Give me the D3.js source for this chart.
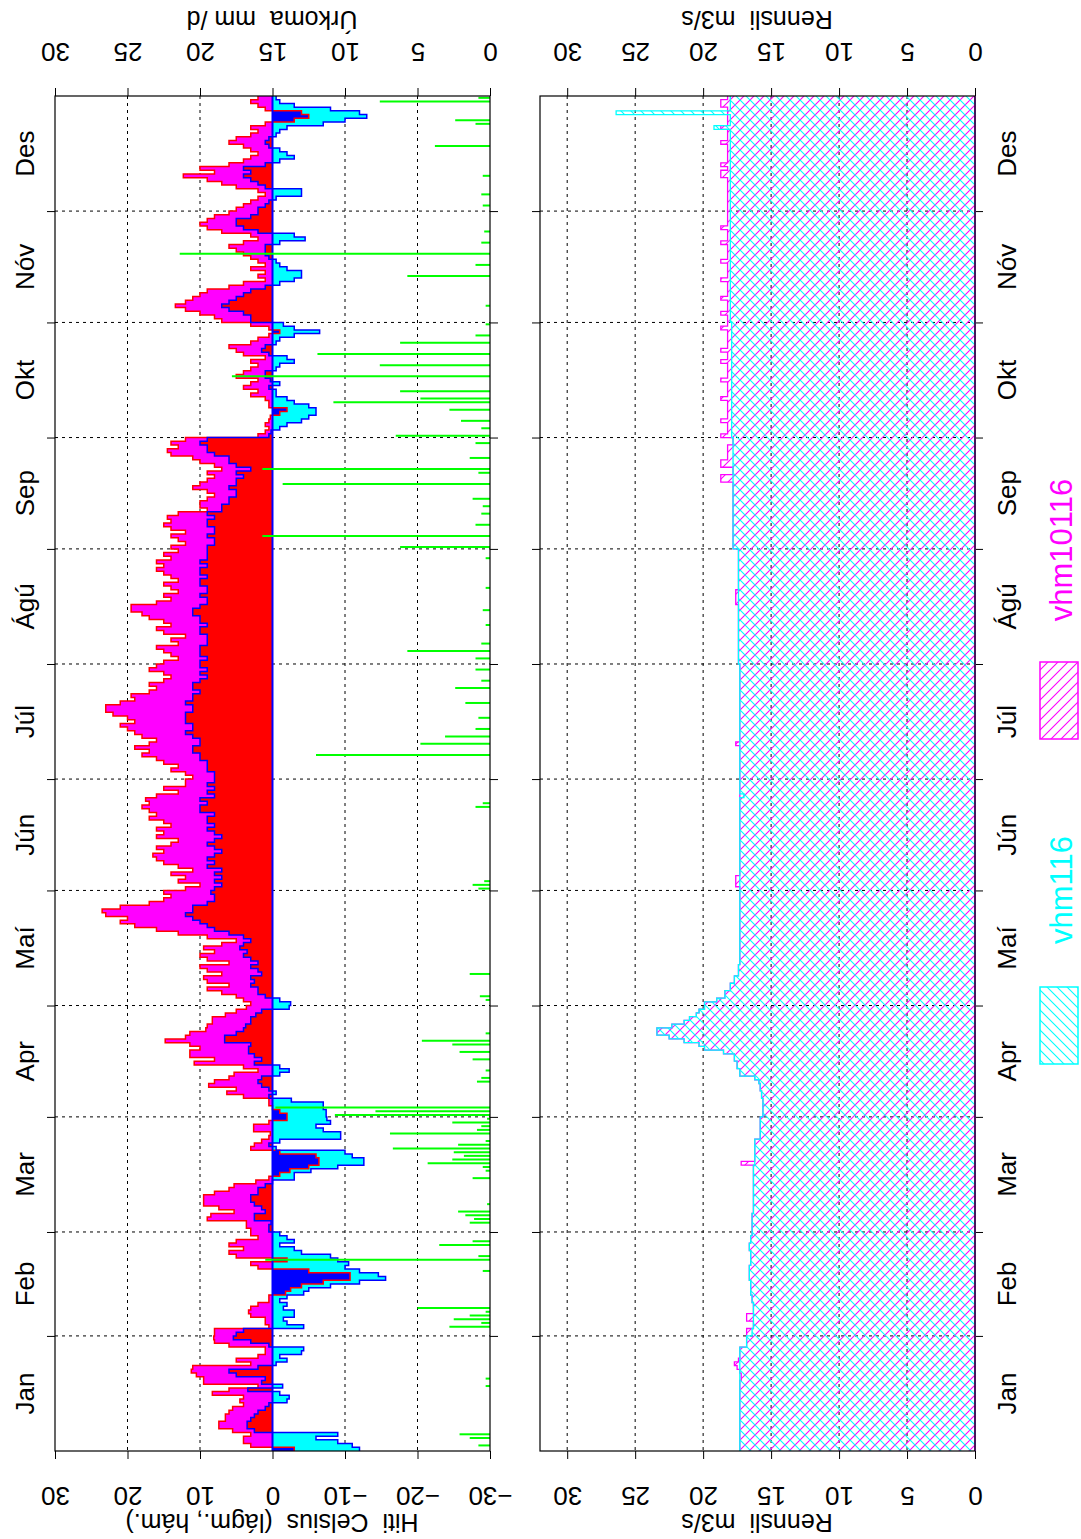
<!DOCTYPE html>
<html>
<head>
<meta charset="utf-8">
<script src="https://cdn.jsdelivr.net/npm/d3@7"></script>
<style>
  body { margin: 0; background: #fff; }
  text { font-family: "Liberation Sans", Arial, sans-serif; white-space: pre; }
</style>
</head>
<body>
<script>
// ---- data ----
const months = ["Jan", "Feb", "Mar", "Apr", "Maí", "Jún", "Júl", "Ágú", "Sep", "Okt", "Nóv", "Des"];
const monthDays = [31, 28, 31, 30, 31, 30, 31, 31, 30, 31, 30, 31];
const tempTicks = [30, 20, 10, 0, -10, -20, -30];
const rainTicks = [0, 5, 10, 15, 20, 25, 30];
const flowTicks = [0, 5, 10, 15, 20, 25, 30];
const seriesNames = ["vhm116", "vhm10116"];

// daily max temperature (°C)
const tmax = [
  -3,3,4,4,3,5.5,7.4,7.4,6.5,6.5,6,5.5,4,4.5,4,8.3,6,2,9.5,9.5,10.5,11.2,11,3,5,2,1,1,6,8,8.1,
  8,8,0.5,1,1,3,3.3,3,2,0.5,0.5,-1.8,-2.5,-4,-7,-10.7,-10.7,-5,2,3,-2,5,6,4,6,5,2,3,
  3,3.6,3.6,9,8.5,5.3,7.4,9.5,9.5,9.5,8,6,5.3,2.3,0.5,-1,-2.4,-5,-6.4,-6.4,-6,-1,3,2.5,1.5,0.5,0.3,2.6,2.6,0.5,-2,
  -2,-1,0,0.5,0.5,4,6.3,5,8.8,8,6,5.3,2,4,10.8,8,11.4,11.4,10,11.4,14.8,12,11.4,9.2,9,8.3,8.3,6.5,5,3.6,
  3,4,5,7,9,6,9,9.5,7,9,10,6,9,10,8,9.5,7,5,9,13,16,19,21,20,23,23.5,21,17,15,14,15,
  12,10,13,12,14,11,13,15,16,16.5,15,16,14,13,16,15,16,14,15,17,16,17,18,17,17.5,16,13,15,12,12,
  11,12,14,13,15,16,18,17,19,17,16,18,19,20,21,19,20,22,23,23,21,19,19.5,17,16,17,15,14,15,17,16,
  15,13,14,15,16,13,14,12,15,16,14,15,17,18,19.5,19.5,16,14,15,13,14,15,13,14,15,16,15,16,14,15,13,
  14,12,13,14,12,14,15,14,14.5,13,9,10,10,9,8,9,11,10,9,8,9,7,8,10,11,14,14.5,13,14,12,
  2,1,0.5,1,0.5,0.3,-1,-2,0.5,0.5,1,3,2,4,3,2,5,4,3,2,3,1,4,5,6,3,2,0.5,-1,0.5,3,
  7,8,10,12,13.4,12,11,10,9,6,4,1,2,1,3,1,2,3,4,5,6,4,2,3,7,9,10,9,8,6,
  5,4,3,2,1,2,5,7,9,12.3,8,10,6,4,3,2,3,4,6,5,3,2,3,1,-3,-5,-4,1,2,3,2
];

// daily min temperature (°C)
const tmin = [
  -12,-11,-9,-6,-9,2.5,3.5,3.5,3,2.5,2,1,0.5,-2,-2.3,-1,3.4,-1.4,1.5,1,5,6,2,-0.5,-2,-1,-4,-4.3,0.5,3,5.4,
  5,4,-4.3,-2,-1.5,-3,-3,-1.5,-2,-1,-2,-4.3,-5,-8,-12,-15.6,-14.6,-12,-10,-10.5,-9,-8,-4,-3,-1,-3,-2,-1,
  0.5,0.5,0.2,2.5,2.5,1,1.5,2.5,3,3,2,2,1,0,-3,-3,-5.3,-9,-12.6,-12.6,-11,-10,-0.5,0.5,-1,-9.4,-9.4,-7,-6,-8,-7.5,
  -7.4,-7.4,-7,-7,-2.6,0.5,-0.5,0.5,1.5,2,1.5,-1,-2.3,-1,2.5,1.5,2.5,3.3,3.3,3,6.6,6.6,5,4,3.7,3,3,2.3,1.5,-2.3,
  -2.5,-1,1,2,2,3,2.5,3,1.5,2,3,2,3,4,3.5,4.5,4,3,4,6,8,9,10,11,12,11,11,9,8,8,8.5,
  8,7,8,7,8,7,9,8,9,8,7,8,9,8,7,8,9,8,9,9,8,10,10,9,10,8,9,8,9,8,
  8,8,9,9,9,10,10,11,11,10,10,11,12,11,11,12,12,12,11,11,12,11,11,10,11,11,10,9,10,9,10,
  10,9,10,10,10,9,9,9,10,10,9,10,10,11,11,10,9,9,10,9,9,10,10,9,10,10,9,10,9,9,9,
  9,8,8,9,8,8,9,9,8,9,7,7,6,6,5,5,6,5,5,4,5,3,5,6,6,8,9,9,10,9,
  0.5,0.2,-1,-2,-4,-5,-6,-6,-5,-3,-2,-0.5,-0.5,0.5,-1,0.3,1,1,-0.5,-1,-3,-2,0.5,1.5,1,-0.5,-1,-3,-6.5,-3,-1.5,
  3,3,4,6,7,6,5,4,3,1,-1,-3,-4,-4,-2,-1,-0.5,0.5,1,1,1,-1,-4.5,-3,2,4,5,5,3,2,
  2,1,0.5,-0.5,-4,-4,1,2,3,4,3,4,1,-1,-3,-2,-1,0.5,1,0.5,-0.5,-1,-2,-7,-10,-13,-12,-8,-3,-1,-0.5
];

// daily precipitation (mm/d)
const rain = [
  0,0.8,0,1.4,2.1,0,0,0,0,0,0,0,0,0,0,0,0,0.3,0,0.3,0,0,0,0,0,0,0,0,0,0,0,
  0,0,2.8,0.6,2.5,1.4,0.3,5.0,0,0,0,0,0,0,0,0,0,0.5,0,0,15.5,0.8,0,0,3.5,1.2,0,0,
  0,0,1.4,1.1,1.7,2.2,0,0.2,0,0,0,0,0,0,1.2,0,0.3,0.5,4.3,2.6,1.8,2.5,6.7,2.2,0.3,0,6.9,0.9,0.6,2.6,0.2,
  10.7,7.9,14.8,0,0,0,0,0,0,0.9,0.6,0,0.3,0,0,1.2,0,2.1,0,2.6,4.7,0,0.3,0,0,0,0,0,0,0,
  0,0.3,0.7,0,0,0,0,0,1.4,0,0,0,0,0,0,0,0,0,0,0,0,0,0,0,0,0,0,0,0,0,0,
  0.8,1.2,0.4,0,0,0,0,0,0,0,0,0,0,0,0,0,0,0,0,0,0,0,1.0,0.5,0,0,0,0,0,0,
  0,0,0,0,0,0,12,0,0,4.8,0,3.1,0,1,0,0,0.8,0,0,0,1.7,0,0,0,2.4,0,0.6,0,0,1.0,0,
  0,1,0,5.7,0,0.6,0,0,0,0,0.3,0,0,0,0.5,0,0,0,0,0,0.3,0,0,0,0,0,0,0,0.3,0,0,
  6.2,0,0,15.7,0,0,1,0,0,0.6,0,0.5,0,1.2,0,0,0,14.3,0,0,0.8,15.7,0,0,1.4,0,0,0,1.0,0,
  6.5,0,0.6,0,2.0,0,0,2.8,0,10.8,4.8,0,6.2,0,0,0,17.8,0,0,7.6,0,0,11.9,0,0,6.2,0,1,0,0,0.3,
  0,0,0,0,0.3,0,0,0,0,0,0,0,5.7,0,0,1.0,0,0,21.4,0,0,0.6,0,0,0.4,0,0,0,0,0,
  0,0.5,0,0,0.6,0,0,0,0,0.5,0,0,0,0,0,0,0,3.8,0,0,0,0,0,1.0,2.4,0,0,0,0,7.6,0.8
];

// daily discharge, vhm116 (m3/s)
const flow116 = [
  17.3,17.3,17.3,17.3,17.3,17.3,17.3,17.3,17.3,17.3,17.3,17.3,17.3,17.3,17.3,17.3,17.3,17.3,17.3,17.3,17.3,17.3,17.3,17.3,17.3,17.3,17.3,17.3,16.8,16.8,16.8,
  16.4,16.4,16.3,16.3,16.3,16.3,16.3,16.3,16.3,16.4,16.4,16.5,16.5,16.5,16.5,16.6,16.6,16.6,16.6,16.5,16.5,16.5,16.5,16.6,16.6,16.5,16.5,16.4,
  16.4,16.4,16.4,16.4,16.4,16.3,16.3,16.3,16.3,16.3,16.3,16.3,16.3,16.3,16.3,16.3,16.3,16.3,16.2,16.2,16.2,16.2,16.2,16.2,16.2,15.8,15.8,15.8,15.8,15.8,15.8,
  15.6,15.6,15.6,15.6,15.6,15.7,15.7,15.8,15.8,15.9,16.2,17.3,17.3,17.5,17.5,17.7,17.7,18.5,19.9,20.3,21.4,22.5,23.4,23.4,22.3,21.4,21.0,20.5,20.3,19.9,
  19.9,19.0,18.4,18.4,18.0,18.0,17.7,17.7,17.4,17.4,17.4,17.3,17.3,17.3,17.3,17.3,17.3,17.3,17.3,17.3,17.3,17.3,17.3,17.3,17.3,17.3,17.3,17.3,17.3,17.3,17.3,
  17.3,17.3,17.3,17.3,17.3,17.3,17.3,17.3,17.3,17.3,17.3,17.3,17.3,17.3,17.3,17.3,17.3,17.3,17.3,17.3,17.3,17.3,17.3,17.3,17.3,17.0,17.3,17.3,17.3,17.3,
  17.3,17.3,17.3,17.3,17.3,17.3,17.3,17.3,17.3,17.3,17.3,17.3,17.3,17.3,17.3,17.3,17.3,17.3,17.3,17.3,17.3,17.3,17.3,17.3,17.3,17.3,17.3,17.3,17.3,17.3,17.3,
  17.4,17.4,17.4,17.4,17.4,17.4,17.4,17.4,17.4,17.4,17.4,17.4,17.4,17.4,17.4,17.4,17.4,17.4,17.4,17.4,17.4,17.4,17.4,17.4,17.4,17.4,17.4,17.4,17.4,17.4,17.4,
  17.8,17.8,17.8,17.8,17.8,17.8,17.8,17.8,17.8,17.8,17.8,17.8,17.8,17.8,17.8,17.8,17.8,17.8,17.8,17.8,17.8,17.8,17.8,17.8,17.8,17.8,17.8,17.8,17.8,17.8,
  17.9,17.9,17.9,17.9,17.9,17.9,17.9,17.9,17.9,17.9,17.9,17.9,17.9,17.9,17.9,17.9,17.9,17.9,17.9,17.9,17.9,17.9,17.9,17.9,17.9,17.9,17.9,17.9,17.9,17.9,17.9,
  18.0,18.0,18.0,18.0,18.0,18.0,18.0,18.0,18.0,18.0,18.0,18.0,18.0,18.0,18.0,18.0,18.0,18.0,18.0,18.0,18.0,18.0,18.0,18.0,18.0,18.0,18.0,18.0,18.0,18.0,
  18.0,18.0,18.0,18.0,18.0,18.0,18.0,18.0,18.0,18.0,18.0,18.0,18.0,18.0,18.0,18.0,18.0,18.0,18.0,18.0,18.0,18.0,19.2,18.0,18.0,18.0,26.4,18.0,18.0,18.0,18.0
];

// daily discharge, vhm10116 (m3/s)
const flow10116 = [
  17.3,17.3,17.3,17.3,17.3,17.3,17.3,17.3,17.3,17.3,17.3,17.3,17.3,17.3,17.3,17.3,17.3,17.3,17.3,17.2,17.2,17.3,17.5,17.7,17.4,17.3,17.3,17.3,16.8,16.8,16.8,
  16.8,16.8,16.3,16.3,16.8,16.8,16.3,16.3,16.3,16.4,16.4,16.5,16.5,16.5,16.5,16.6,16.6,16.6,16.6,16.5,16.5,16.5,16.5,16.6,16.6,16.5,16.5,16.4,
  16.4,16.4,16.4,16.4,16.4,16.3,16.3,16.3,16.3,16.3,16.3,16.3,16.3,16.3,16.3,16.3,16.3,16.3,17.2,16.2,16.2,16.2,16.2,16.2,16.2,15.8,15.8,15.8,15.8,15.8,15.8,
  15.6,15.6,15.6,15.6,15.6,15.7,15.7,15.8,15.8,15.9,16.2,17.3,17.3,17.5,17.5,17.7,17.7,18.5,19.9,20.3,21.4,22.5,23.4,23.4,22.3,21.4,21.0,20.5,20.3,19.9,
  19.9,19.0,18.4,18.4,18.0,18.0,17.7,17.7,17.4,17.4,17.4,17.3,17.3,17.3,17.3,17.3,17.3,17.3,17.3,17.3,17.3,17.3,17.3,17.3,17.3,17.3,17.3,17.3,17.3,17.3,17.3,
  17.3,17.6,17.6,17.6,17.3,17.3,17.3,17.3,17.3,17.3,17.3,17.3,17.3,17.3,17.3,17.3,17.3,17.3,17.3,17.3,17.3,17.3,17.3,17.3,17.3,17.3,17.3,17.3,17.3,17.3,
  17.3,17.3,17.3,17.3,17.3,17.3,17.3,17.3,17.3,17.6,17.3,17.3,17.3,17.3,17.3,17.3,17.3,17.3,17.3,17.3,17.3,17.3,17.3,17.3,17.3,17.3,17.3,17.3,17.3,17.3,17.3,
  17.4,17.4,17.4,17.4,17.4,17.4,17.4,17.4,17.4,17.4,17.4,17.4,17.4,17.4,17.4,17.4,17.6,17.6,17.6,17.6,17.4,17.4,17.4,17.4,17.4,17.4,17.4,17.4,17.4,17.4,17.4,
  17.8,17.8,17.8,17.8,17.8,17.8,17.8,17.8,17.8,17.8,17.8,17.8,17.8,17.8,17.8,17.8,17.8,17.8,18.7,18.7,17.8,17.8,18.7,18.7,18.2,18.2,18.2,18.2,17.8,17.8,
  18.7,18.2,18.2,18.2,18.7,18.2,18.2,18.2,18.2,18.2,18.7,18.2,18.2,18.2,18.2,18.7,18.2,18.2,18.2,18.2,18.7,18.2,18.2,18.7,18.2,18.2,18.2,18.2,18.2,18.7,18.2,
  18.2,18.2,18.7,18.2,18.2,18.2,18.7,18.2,18.2,18.2,18.2,18.7,18.2,18.2,18.2,18.2,18.7,18.2,18.2,18.2,18.2,18.7,18.2,18.2,18.2,18.7,18.2,18.2,18.2,18.2,
  18.2,18.2,18.2,18.2,18.2,18.2,18.2,18.2,18.2,18.7,18.7,18.2,18.7,18.2,18.2,18.2,18.2,18.2,18.7,18.2,18.2,18.2,18.7,18.2,18.2,18.2,18.2,18.2,18.7,18.7,18.2
];

// ---- layout ----
const W = 1081, H = 1539;
const plotTop = 96, plotBottom = 1451;
const nDays = tmax.length;
const monthStart = [0, ...d3.cumsum(monthDays)];

const svg = d3.select("body").append("svg")
  .attr("width", W).attr("height", H);

const y = d3.scaleLinear().domain([0, nDays]).range([plotBottom, plotTop]);
const xT = d3.scaleLinear().domain([30, -30]).range([55, 490]);
const xR = d3.scaleLinear().domain([30, 0]).range([55, 490]);
const xQ = d3.scaleLinear().domain([0, 32]).range([975, 540]);

const defs = svg.append("defs");
function hatch(id, color, up, size) {
  const p = defs.append("pattern").attr("id", id)
    .attr("patternUnits", "userSpaceOnUse")
    .attr("width", size).attr("height", size);
  const s = size;
  const d = up
    ? `M${-s / 4},${s / 4}L${s / 4},${-s / 4}M0,${s}L${s},0M${s * 0.75},${s * 1.25}L${s * 1.25},${s * 0.75}`
    : `M${-s / 4},${s * 0.75}L${s / 4},${s * 1.25}M0,0L${s},${s}M${s * 0.75},${-s / 4}L${s * 1.25},${s / 4}`;
  p.append("path").attr("d", d).attr("stroke", color).attr("stroke-width", 1.1).attr("fill", "none");
}
hatch("hCyan", "#00ffff", false, 10);
hatch("hMag", "#ff00ff", true, 10);

const stepPts = vals => vals.flatMap((v, i) => [[i, v], [i + 1, v]]);
const monthInner = monthStart.slice(1, 12);

function grid(g, xs, ticks, x0, x1) {
  // horizontal month lines (dashed inside, solid ticks outside)
  g.selectAll(".mg").data(monthInner).join("line")
    .attr("x1", x0).attr("x2", x1)
    .attr("y1", d => y(d)).attr("y2", d => y(d))
    .attr("stroke", "#000").attr("stroke-width", 1).attr("stroke-dasharray", "3,4");
  g.append("g").attr("transform", `translate(${x0},0)`)
    .call(d3.axisLeft(y).tickValues(monthInner).tickSize(8).tickSizeOuter(0).tickFormat(""))
    .call(a => a.select(".domain").remove());
  g.append("g").attr("transform", `translate(${x1},0)`)
    .call(d3.axisRight(y).tickValues(monthInner).tickSize(8).tickSizeOuter(0).tickFormat(""))
    .call(a => a.select(".domain").remove());
  // vertical value lines
  g.selectAll(".vg").data(ticks.filter(t => xs(t) > x0 + 1 && xs(t) < x1 - 1)).join("line")
    .attr("x1", d => xs(d)).attr("x2", d => xs(d))
    .attr("y1", plotTop).attr("y2", plotBottom)
    .attr("stroke", "#000").attr("stroke-width", 1).attr("stroke-dasharray", "3,4");
}

function valueAxis(xs, ticks, fmt, atBottom) {
  const ax = (atBottom ? d3.axisBottom(xs) : d3.axisTop(xs))
    .tickValues(ticks).tickSize(8).tickSizeOuter(0).tickFormat(fmt);
  svg.append("g")
    .attr("transform", `translate(0,${atBottom ? plotBottom : plotTop})`)
    .call(ax)
    .call(a => a.select(".domain").remove())
    .call(a => a.selectAll("text")
      .attr("y", null).attr("dy", null)
      .attr("transform", `translate(0,${atBottom ? 45 : -44}) rotate(180)`)
      .attr("dominant-baseline", "central")
      .attr("fill", "#000")
      .style("font-size", "26px"));
}

function title(x, yy, txt) {
  svg.append("text")
    .attr("transform", `translate(${x},${yy}) rotate(180)`)
    .attr("text-anchor", "middle").attr("dominant-baseline", "central")
    .style("font-size", "25px").text(txt);
}

function monthLabels(x) {
  svg.append("g").selectAll("text").data(months).join("text")
    .attr("transform", (m, i) => `translate(${x},${y((monthStart[i] + monthStart[i + 1]) / 2)}) rotate(-90)`)
    .attr("text-anchor", "middle").attr("dominant-baseline", "central")
    .style("font-size", "26px").text(m => m);
}

// ---- upper panel: temperature + precipitation ----
const up = svg.append("g");
grid(up, xT, tempTicks, 55, 490);

const days = d3.range(nDays);
function dayBars(color, value, keep) {
  up.append("g").selectAll("rect").data(days.filter(keep)).join("rect")
    .attr("x", i => Math.min(xT(0), xT(value(i))))
    .attr("width", i => Math.abs(xT(value(i)) - xT(0)))
    .attr("y", i => y(i + 1))
    .attr("height", i => y(i) - y(i + 1))
    .attr("fill", color).attr("shape-rendering", "crispEdges");
}
dayBars("#ff00ff", i => tmax[i], i => tmax[i] > 0);
dayBars("#00ffff", i => tmin[i], i => tmin[i] < 0);
dayBars("#ff0000", i => tmin[i], i => tmin[i] > 0);
dayBars("#0000ff", i => tmax[i], i => tmax[i] < 0);

const tLine = d3.line().x(p => xT(p[1])).y(p => y(p[0]));
up.append("path").attr("d", tLine(stepPts(tmax)))
  .attr("fill", "none").attr("stroke", "#ff0000").attr("stroke-width", 1.5);
up.append("path").attr("d", tLine(stepPts(tmin)))
  .attr("fill", "none").attr("stroke", "#0000ff").attr("stroke-width", 1.5);
up.append("line")
  .attr("x1", xT(0)).attr("x2", xT(0)).attr("y1", plotTop).attr("y2", plotBottom)
  .attr("stroke", "#0000ff").attr("stroke-width", 2);

up.append("g").selectAll("line").data(days.filter(i => rain[i] > 0)).join("line")
  .attr("x1", xR(0)).attr("x2", i => xR(rain[i]))
  .attr("y1", i => y(i + 0.5)).attr("y2", i => y(i + 0.5))
  .attr("stroke", "#00ff00").attr("stroke-width", 2);

up.append("rect").attr("x", 55).attr("y", plotTop).attr("width", 435).attr("height", plotBottom - plotTop)
  .attr("fill", "none").attr("stroke", "#000").attr("stroke-width", 1.2);

valueAxis(xT, tempTicks, d => d < 0 ? "\u2212" + Math.abs(d) : d, true);
valueAxis(xR, rainTicks, d => d, false);
title(272, 1523, "Hiti  Celsius  (lágm., hám.)");
title(272, 20, "Úrkoma  mm /d");
monthLabels(25);

// ---- lower panel: discharge ----
const lo = svg.append("g");
grid(lo, xQ, flowTicks, 540, 975);

const qArea = d3.area().y(p => y(p[0])).x0(xQ(0)).x1(p => xQ(p[1]));
const qLine = d3.line().x(p => xQ(p[1])).y(p => y(p[0]));
// magenta first, cyan over it
[[flow10116, "hMag", "#ff00ff"], [flow116, "hCyan", "#00ffff"]].forEach(([vals, pat, col]) => {
  lo.append("path").attr("d", qArea(stepPts(vals))).attr("fill", `url(#${pat})`);
  lo.append("path").attr("d", qLine(stepPts(vals)))
    .attr("fill", "none").attr("stroke", col).attr("stroke-width", 1.3);
});
lo.append("line").attr("x1", xQ(0)).attr("x2", xQ(0)).attr("y1", plotTop).attr("y2", plotBottom)
  .attr("stroke", "#b040e0").attr("stroke-width", 2);

lo.append("rect").attr("x", 540).attr("y", plotTop).attr("width", 435).attr("height", plotBottom - plotTop)
  .attr("fill", "none").attr("stroke", "#000").attr("stroke-width", 1.2);

valueAxis(xQ, flowTicks, d => d, true);
valueAxis(xQ, flowTicks, d => d, false);
title(757, 1523, "Rennsli  m3/s");
title(757, 20, "Rennsli  m3/s");
monthLabels(1007);

// ---- legend ----
const legend = svg.append("g");
const legendY = [1025, 700];
const legendPat = ["hCyan", "hMag"];
const legendCol = ["#00ffff", "#ff00ff"];
seriesNames.forEach((name, k) => {
  legend.append("rect")
    .attr("x", 1040).attr("y", legendY[k] - 38).attr("width", 38).attr("height", 77)
    .attr("fill", `url(#${legendPat[k]})`).attr("stroke", legendCol[k]).attr("stroke-width", 1.5);
  legend.append("text")
    .attr("transform", `translate(1061,${legendY[k] - 135 - (k ? 15 : 0)}) rotate(-90)`)
    .attr("text-anchor", "middle").attr("dominant-baseline", "central")
    .attr("fill", legendCol[k]).style("font-size", "31px").text(name);
});
</script>
</body>
</html>
